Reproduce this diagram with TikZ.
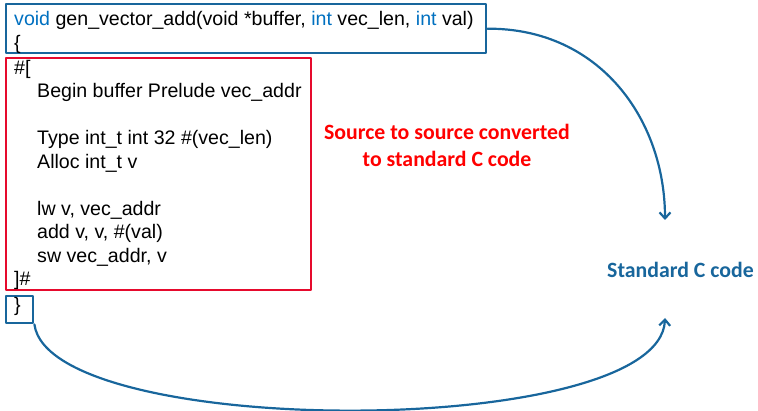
\documentclass[tikz,border=0pt]{standalone}
\usepackage{fontspec}
\setmainfont{Liberation Sans}
\newfontfamily\calibri{Carlito}
\usetikzlibrary{arrows.meta}
\definecolor{flowblue}{RGB}{24,102,156}
\definecolor{kwblue}{RGB}{0,112,192}
\definecolor{boxred}{RGB}{230,10,45}
\begin{document}
\begin{tikzpicture}[>={Straight Barb[length=6pt,width=11pt]},line join=round,line cap=round,x=1pt,y=-1pt,
	code/.style={anchor=base west,inner sep=0pt,font=\fontsize{19.6}{23}\selectfont},
	note/.style={align=center,inner sep=0pt,font=\calibri\bfseries\fontsize{21.8}{27}\selectfont},
	bluebox/.style={draw=flowblue,line width=2.4pt,anchor=north west,inner sep=0pt},
	flow/.style={flowblue,line width=2.2pt}]
	\useasboundingbox (0,0) rectangle (758,411);
	\node[bluebox,minimum width=480pt,minimum height=49pt] (sig) at (5,3) {};
	\node[draw=boxred,line width=2pt,anchor=north west,inner sep=0pt,minimum width=305pt,minimum height=232pt] (prelude) at (5,57) {};
	\node[bluebox,minimum width=27pt,minimum height=27pt] (close) at (5,295) {};
	\node[code] (head) at (14,26) {\textcolor{kwblue}{void} gen\_vector\_add(void *buffer, \textcolor{kwblue}{int} vec\_len, \textcolor{kwblue}{int} val)};
	\node[code] (open) at (14,49.5) {\{};
	\foreach \x/\y/\t in {14/74.5/{\#[},37/98/{Begin buffer Prelude vec\_addr},37/145/{Type int\_t int 32 \#(vec\_len)},
		37/168.5/{Alloc int\_t v},37/215.5/{lw v, vec\_addr},37/239/{add v, v, \#(val)},37/262.5/{sw vec\_addr, v},14/286/{]\#}}
	\node[code] at (\x,\y) {\t};
	\node[code] (brace) at (14,312) {\}};
	\node[note,text=red,anchor=base] (conv) at (447,167) {Source to source converted\\to standard C code};
	\node[note,text=flowblue,anchor=base west] (std) at (607,278) {Standard C code};
	\path
	(665,220) coordinate (intop)
	(665,318) coordinate (inbot);
	\draw[flow,->] (sig.east) .. controls (600,28) and (665,120) .. (intop);
	\draw[flow,->] (close.south east) .. controls (50,440) and (660,440) .. (inbot);
\end{tikzpicture}
\end{document}
